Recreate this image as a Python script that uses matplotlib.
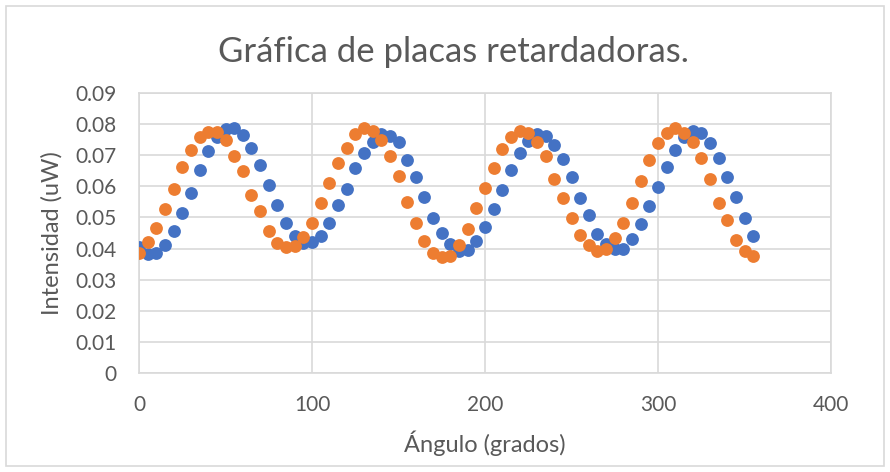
import matplotlib
matplotlib.use("Agg")
import matplotlib.pyplot as plt
from matplotlib.patches import Rectangle

# angles 0..355 every 5 degrees
angulo = list(range(0, 360, 5))

# blue series
serie1 = [0.0405, 0.0384, 0.0386, 0.0413, 0.0456, 0.0514, 0.0579, 0.0654, 0.0712, 0.0757,
          0.0784, 0.0789, 0.0765, 0.0723, 0.0670, 0.0604, 0.0541, 0.0482, 0.0440, 0.0418,
          0.0421, 0.0440, 0.0482, 0.0539, 0.0590, 0.0659, 0.0706, 0.0743, 0.0768, 0.0763,
          0.0741, 0.0686, 0.0631, 0.0565, 0.0499, 0.0450, 0.0414, 0.0391, 0.0395, 0.0424,
          0.0469, 0.0526, 0.0589, 0.0651, 0.0707, 0.0747, 0.0768, 0.0763, 0.0734, 0.0688,
          0.0631, 0.0563, 0.0509, 0.0448, 0.0414, 0.0400, 0.0400, 0.0430, 0.0478, 0.0537,
          0.0599, 0.0663, 0.0717, 0.0760, 0.0779, 0.0770, 0.0740, 0.0690, 0.0631, 0.0567,
          0.0499, 0.0440]

# orange series
serie2 = [0.0386, 0.0421, 0.0467, 0.0526, 0.0590, 0.0663, 0.0717, 0.0760, 0.0776, 0.0775,
          0.0749, 0.0698, 0.0648, 0.0573, 0.0520, 0.0456, 0.0419, 0.0405, 0.0408, 0.0438,
          0.0482, 0.0546, 0.0611, 0.0674, 0.0723, 0.0768, 0.0786, 0.0779, 0.0749, 0.0696,
          0.0632, 0.0551, 0.0483, 0.0424, 0.0387, 0.0373, 0.0376, 0.0411, 0.0464, 0.0531,
          0.0594, 0.0659, 0.0720, 0.0757, 0.0779, 0.0773, 0.0744, 0.0696, 0.0624, 0.0562,
          0.0498, 0.0445, 0.0413, 0.0392, 0.0397, 0.0435, 0.0482, 0.0547, 0.0616, 0.0686,
          0.0738, 0.0773, 0.0788, 0.0773, 0.0744, 0.0690, 0.0624, 0.0547, 0.0491, 0.0429,
          0.0391, 0.0375]

xticks = [0, 100, 200, 300, 400]
yticks = [0, 0.01, 0.02, 0.03, 0.04, 0.05, 0.06, 0.07, 0.08, 0.09]
ytick_labels = ["0", "0.01", "0.02", "0.03", "0.04", "0.05", "0.06", "0.07", "0.08", "0.09"]

plt.rcParams['font.family'] = ['Lato', 'DejaVu Sans']
gris = "#595959"
rejilla = "#D9D9D9"

fig = plt.figure(figsize=(8.9, 4.72), dpi=100)
fig.patches.append(Rectangle((6/890, 6/472), 878/890, 460/472, transform=fig.transFigure,
                             fill=False, edgecolor=rejilla, linewidth=1.2))

ax = fig.add_axes([139/890, 1 - 373/472, 692/890, 280/472])
ax.scatter(angulo, serie1, s=85, color="#4472C4", zorder=3, linewidths=0)
ax.scatter(angulo, serie2, s=85, color="#ED7D31", zorder=4, linewidths=0)

ax.set_xlim(0, 400)
ax.set_ylim(0, 0.09)
ax.set_xticks(xticks)
ax.set_yticks(yticks)
ax.set_yticklabels(ytick_labels)
ax.grid(True, color=rejilla, linewidth=1.2)
ax.set_axisbelow(True)
for s in ax.spines.values():
    s.set_color(rejilla)
    s.set_linewidth(1.2)
ax.tick_params(length=0, labelsize=15, colors=gris)
ax.tick_params(axis='x', pad=16)
ax.tick_params(axis='y', pad=16)

fig.text(453/890, 1 - 52/472, "Gráfica de placas retardadoras.", fontsize=25, color=gris,
         ha='center', va='center')
ax.set_xlabel("Ángulo (grados)", fontsize=17, color=gris)
ax.set_ylabel("Intensidad (uW)", fontsize=17, color=gris)
ax.xaxis.set_label_coords(0.5, -0.25)
ax.xaxis.label.set_va('center')
ax.yaxis.set_label_coords(-0.126, 0.5)
ax.yaxis.label.set_va('center')

fig.savefig("out.png", dpi=100)
